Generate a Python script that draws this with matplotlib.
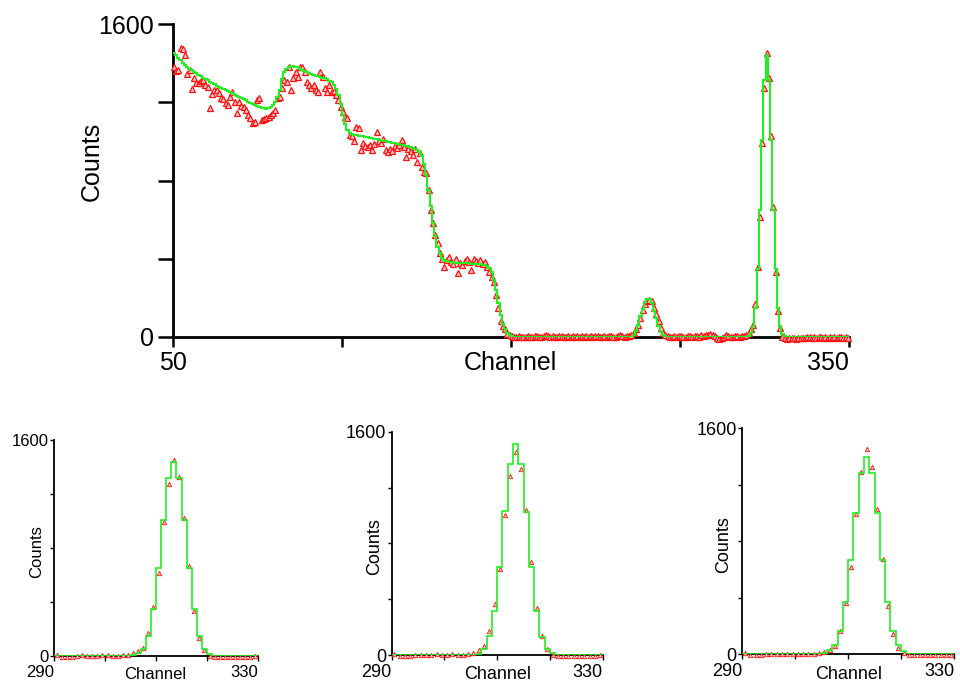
import numpy as np
import matplotlib
matplotlib.use('Agg')
import matplotlib.pyplot as plt

plt.rcParams['font.family'] = ['Liberation Sans', 'DejaVu Sans']

# ---------------- data ----------------
# main spectrum: channels 50..289 (bin lower edges)
main_channels_low = np.arange(50, 290)
main_fit_low = [
    1450, 1440, 1428, 1415, 1403, 1392, 1382, 1372, 1363, 1355,
    1347, 1340, 1333, 1326, 1319, 1312, 1305, 1298, 1291, 1285,
    1279, 1273, 1268, 1263, 1257, 1251, 1245, 1239, 1233, 1227,
    1221, 1215, 1209, 1203, 1197, 1191, 1185, 1180, 1175, 1171,
    1169, 1168, 1170, 1175, 1185, 1200, 1225, 1265, 1320, 1355,
    1372, 1380, 1383, 1383, 1381, 1378, 1372, 1366, 1360, 1355,
    1350, 1345, 1340, 1336, 1332, 1329, 1326, 1322, 1317, 1311,
    1303, 1290, 1268, 1235, 1190, 1135, 1088, 1058, 1042, 1036,
    1033, 1031, 1029, 1027, 1025, 1023, 1021, 1019, 1016, 1013,
    1010, 1008, 1006, 1004, 1001, 998, 996, 993, 990, 988,
    985, 983, 980, 977, 974, 971, 967, 962, 955, 944,
    925, 885, 830, 752, 668, 585, 515, 462, 428, 405,
    393, 387, 384, 382, 381, 380, 379, 378, 378, 377,
    377, 376, 375, 374, 373, 372, 371, 370, 368, 364,
    355, 330, 292, 240, 175, 112, 68, 40, 22, 10,
    4, 2, 1, 1, 1, 1, 1, 1, 1, 1,
    1, 1, 1, 1, 1, 1, 1, 1, 1, 1,
    1, 1, 1, 1, 1, 1, 1, 1, 1, 1,
    1, 1, 1, 1, 1, 1, 1, 1, 1, 1,
    1, 1, 1, 1, 1, 1, 1, 1, 1, 1,
    1, 1, 1, 2, 10, 30, 62, 105, 145, 178,
    193, 193, 172, 135, 95, 58, 28, 10, 3, 1,
    1, 1, 1, 1, 1, 1, 1, 1, 1, 1,
    1, 1, 1, 1, 1, 1, 1, 1, 1, 1,
]
main_data_low = [
    1382, 1360, 1365, 1476, 1470, 1441, 1345, 1365, 1266, 1322,
    1296, 1300, 1310, 1314, 1290, 1280, 1169, 1240, 1263, 1262,
    1245, 1220, 1215, 1194, 1185, 1228, 1254, 1200, 1143, 1203,
    1180, 1177, 1160, 1135, 1118, 1092, 1100, 1211, 1220, 1109,
    1115, 1118, 1125, 1135, 1143, 1160, 1220, 1228, 1271, 1314,
    1305, 1382, 1263, 1322, 1356, 1330, 1382, 1382, 1356, 1305,
    1290, 1271, 1288, 1263, 1254, 1356, 1331, 1271, 1254, 1288,
    1254, 1260, 1237, 1211, 1177, 1150, 1126, 1118, 1033, 1030,
    1000, 1075, 1066, 956, 990, 975, 973, 981, 956, 985,
    1049, 1000, 990, 1010, 956, 947, 960, 950, 975, 965,
    980, 1007, 970, 922, 962, 950, 930, 960, 896, 940,
    870, 845, 837, 751, 649, 581, 520, 480, 430, 400,
    360, 395, 410, 385, 375, 398, 326, 380, 370, 390,
    398, 385, 343, 398, 390, 380, 395, 372, 385, 360,
    331, 308, 280, 215, 150, 82, 55, 40, 15, 8,
    4, 2, 0, 3, 1, 0, 2, 5, 1, 0,
    3, 6, 2, 0, 4, 8, 3, 1, 5, 2,
    0, 4, 7, 2, 1, 3, 0, 5, 2, 6,
    1, 3, 0, 4, 2, 7, 1, 3, 5, 0,
    2, 4, 1, 6, 3, 0, 2, 5, 8, 3,
    2, 3, 5, 8, 20, 42, 60, 95, 140, 170,
    182, 190, 185, 150, 120, 80, 45, 20, 8, 3,
    2, 0, 4, 1, 3, 6, 2, 0, 5, 3,
    1, 4, 7, 2, 9, 5, 12, 8, 15, 10,
]

# main spectrum: channels 330..349
main_channels_high = np.arange(330, 350)
main_fit_high = [0, 0, 0, 0, 0, 0, 0, 0, 0, 0,
                 0, 0, 0, 0, 0, 0, 0, 0, 0, 0]
main_data_high = [-3, -2, 0, -4, -2, -3, 0, -2, -5, -1,
                  -3, -2, -4, 0, -3, -2, -1, -4, -2, -3]

# zoomed peak, channels 290..329 (three fits)
peak_channels = np.arange(290, 330)
peak1_fit = [
    0, 0, 0, 0, 0, 0, 0, 0, 0, 0,
    0, 0, 0, 0, 0, 5, 20, 54, 150, 348,
    649, 1007, 1316, 1440, 1316, 1007, 649, 346, 150, 54,
    15, 3, 0, 0, 0, 0, 0, 0, 0, 0,
]
peak1_data = [
    5, -5, -8, -5, 0, 8, 3, 0, 2, 4,
    5, 0, 3, 6, 10, 20, 40, 62, 168, 360,
    612, 990, 1274, 1452, 1323, 1025, 667, 333, 131, 44,
    2, -5, -8, -5, -6, -4, -8, -5, -6, -3,
]
peak2_fit = [
    0, 0, 0, 0, 0, 0, 0, 0, 0, 0,
    0, 0, 0, 0, 0, 0, 8, 41, 134, 317,
    632, 1031, 1370, 1509, 1370, 1026, 632, 317, 131, 41,
    12, 2, 0, 0, 0, 0, 0, 0, 0, 0,
]
peak2_data = [
    8, -4, -6, -5, -3, 0, 2, 0, 4, 0,
    2, 5, 1, 3, 8, 12, 36, 67, 172, 365,
    616, 1000, 1282, 1451, 1334, 1036, 668, 334, 136, 45,
    0, -5, -6, -4, -7, -5, -6, -4, -5, -3,
]
peak3_fit = [
    0, 0, 0, 0, 0, 0, 0, 0, 0, 0,
    0, 0, 0, 0, 0, 8, 31, 64, 167, 368,
    665, 998, 1281, 1394, 1281, 998, 665, 368, 167, 64,
    21, 3, 0, 0, 0, 0, 0, 0, 0, 0,
]
peak3_data = [
    6, -3, -5, -4, 0, 3, 2, 0, 4, 1,
    3, 2, 0, 5, 9, 14, 31, 61, 167, 366,
    618, 993, 1288, 1453, 1328, 1031, 672, 344, 144, 42,
    7, -4, -6, -5, -3, -6, -5, -4, -6, -3,
]

y_ticks = [0, 400, 800, 1200, 1600]
y_ticklabels = ['0', '', '', '', '1600']
main_xticks = [50, 125, 200, 275, 350]
main_xticklabels = ['50', '', '', '', '350']
small_xticks = [290, 300, 310, 320, 330]
small_xticklabels = ['290', '', '', '', '330']

# ---------------- drawing ----------------
GREEN = '#22ee22'
RED = '#ff1010'
PINK = '#ffc8c8'

W, H = 960, 682
fig = plt.figure(figsize=(W / 100, H / 100), dpi=100)


def axes_px(l, t, r, b):
    return fig.add_axes([l / W, 1 - b / H, (r - l) / W, (b - t) / H])


def style(ax, xlim, xticks, xlabels, fs, lw, ylen, xlen, tw, ypad, xpad, first_ha):
    ax.set_xlim(*xlim)
    ax.set_ylim(0, 1600)
    for s in ['top', 'right']:
        ax.spines[s].set_visible(False)
    for s in ['left', 'bottom']:
        ax.spines[s].set_linewidth(lw)
    ax.set_yticks(y_ticks)
    ax.set_yticklabels(y_ticklabels)
    ax.set_xticks(xticks)
    ax.set_xticklabels(xlabels)
    ax.tick_params(axis='y', length=ylen, width=tw, labelsize=fs, pad=ypad)
    ax.tick_params(axis='x', length=xlen, width=tw, labelsize=fs, pad=xpad)
    labels = ax.get_xticklabels()
    for t in labels:
        t.set_ha('right')
    labels[0].set_ha(first_ha)


def draw(ax, channels, fit, data, ms, mew, lw):
    edges = np.append(channels, channels[-1] + 1)
    ax.plot(channels + 0.5, data, linestyle='none', marker='^', ms=ms,
            mfc=PINK, mec=RED, mew=mew, zorder=3, clip_on=False)
    ax.stairs(fit, edges, baseline=None, color=GREEN, lw=lw, zorder=4)


# main plot
ax = axes_px(172.7, 24, 849, 337)
main_channels = np.concatenate([main_channels_low, peak_channels, main_channels_high])
main_fit = np.concatenate([main_fit_low, peak1_fit, main_fit_high])
main_data = np.concatenate([main_data_low, peak1_data, main_data_high])
draw(ax, main_channels, main_fit, main_data, ms=5.0, mew=0.9, lw=1.5)
style(ax, (50, 350), main_xticks, main_xticklabels, 18, 2.0, 11, 7, 1.8, 2.5, 3, 'center')
fig.text(510 / W, 1 - 370 / H, 'Channel', ha='center', va='baseline', fontsize=18)
fig.text(92 / W, 1 - 161 / H, 'Counts', ha='center', va='center', rotation=90, fontsize=18)

# small plots
small = [
    ((54, 440, 258, 656), peak1_fit, peak1_data, 12, (155, 679), (37, 552)),
    ((391.7, 431.7, 602.7, 655), peak2_fit, peak2_data, 13, (497.5, 679), (375, 547)),
    ((742.3, 428.3, 954, 654.3), peak3_fit, peak3_data, 13, (848.3, 679), (723.5, 545)),
]
for box, fit, data, fs, chpos, cpos in small:
    a = axes_px(*box)
    draw(a, peak_channels, fit, data, ms=3.2, mew=0.6, lw=1.2)
    style(a, (290, 330), small_xticks, small_xticklabels, fs, 1.3, 3, 3.5, 1.0, 1.0, 3, 'right')
    fig.text(chpos[0] / W, 1 - chpos[1] / H, 'Channel', ha='center', va='baseline', fontsize=fs)
    fig.text(cpos[0] / W, 1 - cpos[1] / H, 'Counts', ha='center', va='center', rotation=90, fontsize=fs)

fig.savefig('out.png', dpi=100)
